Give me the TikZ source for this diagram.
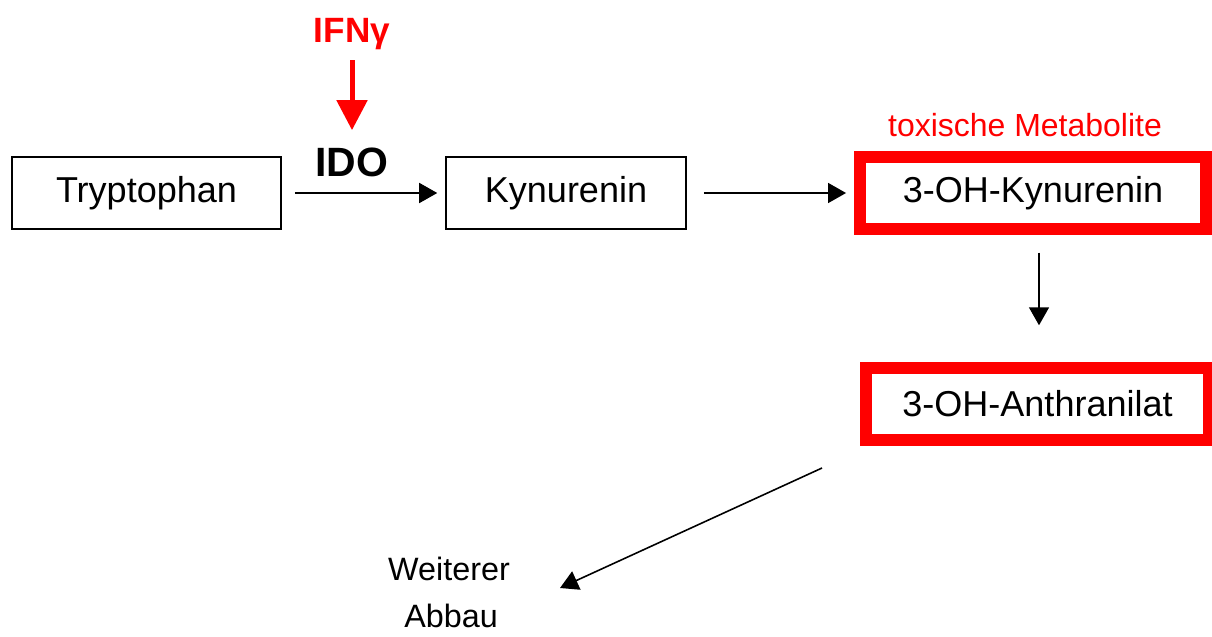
\documentclass[tikz,border=0pt]{standalone}
\usepackage{fontspec}
\setmainfont{Liberation Sans}
\usetikzlibrary{arrows.meta,positioning}

\begin{document}
\begin{tikzpicture}[x=0.02cm,y=-0.02cm,
    box/.style={draw,line width=0.9pt,minimum height=1.44cm,inner sep=0pt,
      font=\fontsize{20.5}{24}\selectfont},
    toxbox/.style={draw=red,line width=0.24cm,minimum height=1.43cm,inner sep=0pt,
      font=\fontsize{20.5}{24}\selectfont},
    pfeil/.style={line width=0.9pt,-{Triangle[length=0.36cm,width=0.4cm]}},
    rotpfeil/.style={red,line width=0.1cm,-{Triangle[length=0.6cm,width=0.6cm]}},
    label/.style={inner sep=0pt}]
    \useasboundingbox (0,0) rectangle (1212,636);

    % Stoffwechselweg
    \node[box,minimum width=5.38cm] (tryp) at (146.5,193) {Tryptophan};
    \node[box,minimum width=4.8cm] (kyn) at (566,193) {Kynurenin};
    \node[toxbox,minimum width=6.92cm] (hk) at (1033,193) {3-OH-Kynurenin};
    \node[toxbox,minimum width=6.88cm] (ha) at (1037.5,404) {3-OH-Anthranilat};

    \node[label,font=\fontsize{23.3}{28}\selectfont\bfseries] (ido) at (352,162) {IDO};
    \node[label,red,font=\fontsize{20}{24}\selectfont\bfseries] (ifn) at (352,34) {IFNγ};
    \node[label,red,font=\fontsize{18.2}{22}\selectfont] (tox) at (1025,125) {toxische Metabolite};

    \node[label,anchor=base,font=\fontsize{18.4}{22}\selectfont] (weiter) at (449,580) {Weiterer};
    \node[label,anchor=base,font=\fontsize{18.4}{22}\selectfont] (abbau) at (451,627) {Abbau};

    % Pfeile
    \draw[rotpfeil,shorten <=0.2cm,shorten >=0.34cm] (ifn) -- (ido);
    \draw[pfeil,shorten <=0.26cm,shorten >=0.16cm] (tryp) -- (kyn);
    \draw[pfeil,shorten <=0.34cm,shorten >=0.16cm] (kyn) -- (hk);
    \draw[pfeil,shorten <=0.36cm,shorten >=0.74cm]
      ([xshift=0.12cm]hk.south) -- ([xshift=0.12cm]hk.south |- ha.north);
    \coordinate (d0) at (822,468);
    \coordinate (d1) at (560,588);
    \draw[pfeil] (d0) -- (d1);
\end{tikzpicture}
\end{document}
